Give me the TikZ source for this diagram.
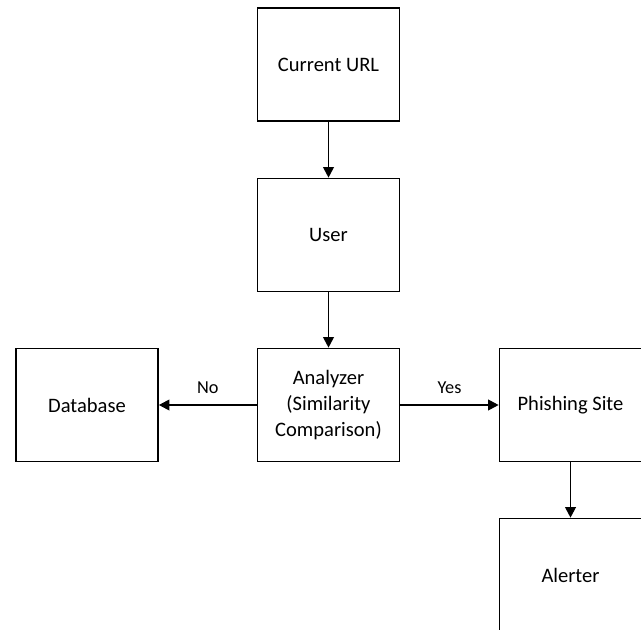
\documentclass[tikz,border=0pt]{standalone}
\usepackage{fontspec}
\setmainfont{Carlito}
\usetikzlibrary{arrows.meta}

\tikzset{
  blk/.style={draw=black, line width=1.3pt, rectangle, inner sep=0pt,
    minimum width=106.5pt, minimum height=84.75pt, align=center,
    font=\fontsize{15.4pt}{19.2pt}\selectfont},
  flow/.style={draw=black, line width=1pt,
    -{Triangle[length=7.8pt, width=8pt]}},
  lbl/.style={above=8.2pt, inner sep=0pt,
    font=\fontsize{13.7pt}{16pt}\selectfont}
}

\begin{document}
\begin{tikzpicture}[x=0.75pt, y=-0.75pt]
  % page frame and clipping
  \useasboundingbox (0,0) rectangle (641,630);
  \clip (0,0) rectangle (641,630);
  \fill[white] (0,0) rectangle (641,630);

  % blocks
  \node[blk] (cur)  at (328.5, 64.5) {Current URL};
  \node[blk] (user) at (328.5, 235)  {User};
  \node[blk] (ana)  at (328.5, 405)  {Analyzer\\(Similarity\\Comparison)};
  \node[blk] (db)   at (87, 405)     {Database};
  \node[blk] (ph)   at (570.5, 405)  {Phishing Site};
  \node[blk] (al)   at (570.5, 575)  {Alerter};

  % connectors
  \draw[flow] (cur) -- (user);
  \draw[flow] (user) -- (ana);
  \draw[flow] (ana) -- node[lbl] {No} (db);
  \draw[flow] (ana) -- node[lbl] {Yes} (ph);
  \draw[flow] (ph) -- (al);
\end{tikzpicture}
\end{document}
